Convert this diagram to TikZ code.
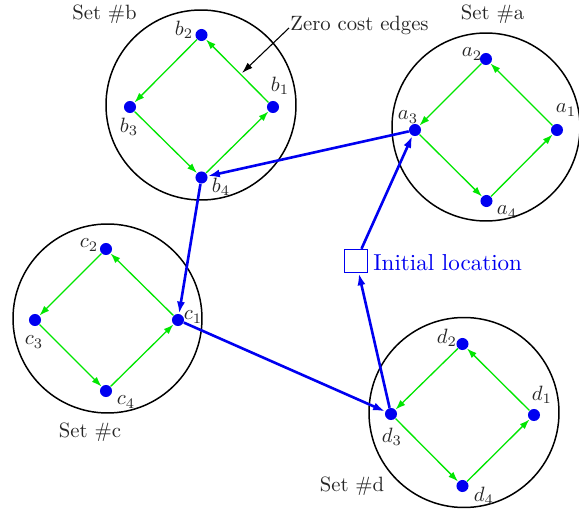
\documentclass[tikz,border=0pt]{standalone}
\usetikzlibrary{arrows.meta}
\definecolor{tourblue}{RGB}{0,0,240}
\definecolor{zerogreen}{RGB}{0,230,0}
\begin{document}
\begin{tikzpicture}[x=0.4831pt,y=-0.4831pt,
  every node/.style={font=\fontsize{10}{12}\selectfont},
  setcircle/.style={draw=black,line width=0.72pt},
  dot/.style={circle,fill=tourblue,inner sep=0pt,minimum size=5.8pt},
  lab/.style={inner sep=0pt,text=black!85},
  settext/.style={inner sep=0pt,anchor=base,text=black!85},
  zero/.style={draw=zerogreen,line width=0.63pt,-{Latex[length=4.8pt,width=3.4pt]}},
  tour/.style={draw=tourblue,line width=1.26pt,-{Latex[length=5.8pt,width=3.9pt]}},
  initbox/.style={draw=tourblue,line width=0.72pt,minimum size=11.1pt,inner sep=0pt}]
\useasboundingbox (0,0) rectangle (579,512);
% circles
\draw[setcircle] (201,105) circle[radius=95];
\draw[setcircle] (486,127) circle[radius=94];
\draw[setcircle] (107.5,318.5) circle[radius=94.5];
\draw[setcircle] (464,412.5) circle[radius=95];
% dots
\node[dot] (b1) at (273,107) {};
\node[dot] (b2) at (201.5,35) {};
\node[dot] (b3) at (130,107) {};
\node[dot] (b4) at (201.5,177.5) {};
\node[dot] (a1) at (557,130) {};
\node[dot] (a2) at (486,59) {};
\node[dot] (a3) at (415,130) {};
\node[dot] (a4) at (486.5,201) {};
\node[dot] (c1) at (178,320) {};
\node[dot] (c2) at (106,249) {};
\node[dot] (c3) at (35,320) {};
\node[dot] (c4) at (106,391) {};
\node[dot] (d1) at (534,415) {};
\node[dot] (d2) at (462.5,344) {};
\node[dot] (d3) at (391,414) {};
\node[dot] (d4) at (462.5,486) {};
% labels
\node[lab] (lb1) at (280,86) {$b_1$};
\node[lab] (lb2) at (184,30) {$b_2$};
\node[lab] (lb3) at (129,127) {$b_3$};
\node[lab] (lb4) at (221,187) {$b_4$};
\node[lab] (la1) at (566,110) {$a_1$};
\node[lab] (la2) at (472,54) {$a_2$};
\node[lab] (la3) at (408,117) {$a_3$};
\node[lab] (la4) at (507,212) {$a_4$};
\node[lab] (lc1) at (193,317) {$c_1$};
\node[lab] (lc2) at (89,245) {$c_2$};
\node[lab] (lc3) at (34,342) {$c_3$};
\node[lab] (lc4) at (126,402) {$c_4$};
\node[lab] (ld1) at (542,395) {$d_1$};
\node[lab] (ld2) at (447,338) {$d_2$};
\node[lab] (ld3) at (392,437) {$d_3$};
\node[lab] (ld4) at (484,496) {$d_4$};
% set names
\node[settext] (sb) at (104.5,19) {Set \#b};
\node[settext] (sa) at (492.5,19) {Set \#a};
\node[settext] (sc) at (90,438) {Set \#c};
\node[settext] (sd) at (352,492) {Set \#d};
% zero cost edges
\foreach \s in {a,b,c,d}{
  \draw[zero] (\s1) -- (\s2);
  \draw[zero] (\s2) -- (\s3);
  \draw[zero] (\s3) -- (\s4);
  \draw[zero] (\s4) -- (\s1);
}
\node[inner sep=0pt,anchor=base west,text=black!85] (zce) at (290,30) {Zero cost edges};
\coordinate (zs) at (289,28);
\coordinate (zt) at (242,73);
\draw[line width=0.53pt,-{Latex[length=5.3pt,width=3.4pt]}] (zs) -- (zt);
% initial location
\node[initbox] (init) at (356,261) {};
\node[inner sep=0pt,anchor=base west,text=tourblue] (initlab) at (373,270) {\scalebox{1.114}{Initial location}};
% tour
\draw[tour] (init) -- (a3);
\draw[tour] (a3) -- (b4);
\draw[tour] (b4) -- (c1);
\draw[tour] (c1) -- (d3);
\draw[tour] (d3) -- (init);
\end{tikzpicture}
\end{document}
